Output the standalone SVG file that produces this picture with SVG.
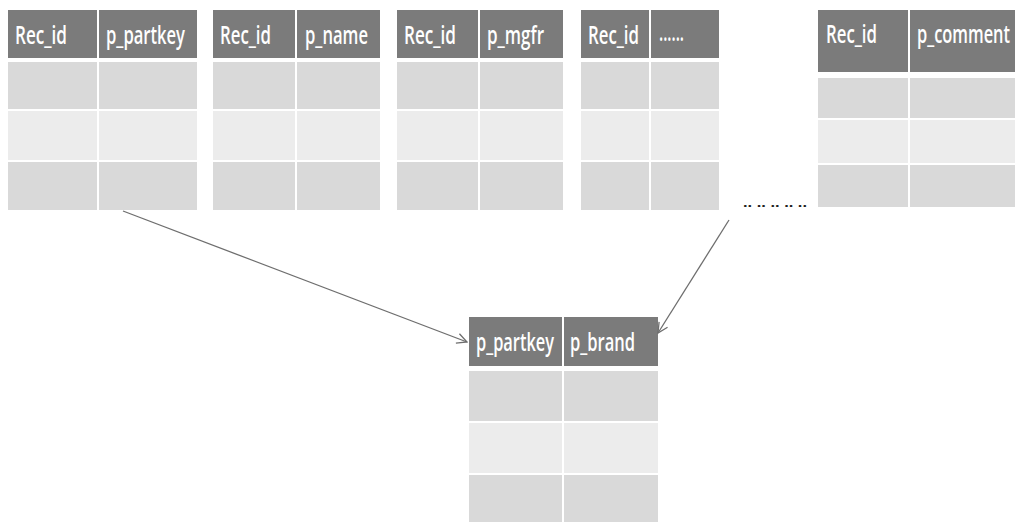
<svg xmlns="http://www.w3.org/2000/svg" width="1015" height="522" viewBox="0 0 1015 522">
<defs>
<style>
.h{fill:#7b7b7b}
.r1{fill:#d9d9d9}
.r2{fill:#ececec}
.t{fill:#ffffff;font-family:"Open Sans","Liberation Sans",sans-serif;font-weight:600;font-size:25px}
.c{stroke:#6e6e6e;stroke-width:1.3;fill:none}
</style>
<marker id="ah" viewBox="0 0 12 12" refX="11" refY="6" markerWidth="12" markerHeight="12" markerUnits="userSpaceOnUse" orient="auto">
<path d="M1,1 L11,6 L1,11" fill="none" stroke="#6e6e6e" stroke-width="1.3"/>
</marker>
</defs>
<rect width="1015" height="522" fill="#ffffff"/>

<g id="table1">
<rect class="h" x="8" y="10" width="89" height="48"/><rect class="h" x="99" y="10" width="98" height="48"/>
<rect class="r1" x="8" y="62" width="89" height="47"/><rect class="r1" x="99" y="62" width="98" height="47"/>
<rect class="r2" x="8" y="111" width="89" height="49"/><rect class="r2" x="99" y="111" width="98" height="49"/>
<rect class="r1" x="8" y="162" width="89" height="48"/><rect class="r1" x="99" y="162" width="98" height="48"/>
<text class="t" x="15" y="44" textLength="52" lengthAdjust="spacingAndGlyphs">Rec_id</text>
<text class="t" x="106" y="44" textLength="79" lengthAdjust="spacingAndGlyphs">p_partkey</text>
</g>

<g id="table2">
<rect class="h" x="213" y="10" width="82" height="48"/><rect class="h" x="297" y="10" width="83" height="48"/>
<rect class="r1" x="213" y="62" width="82" height="47"/><rect class="r1" x="297" y="62" width="83" height="47"/>
<rect class="r2" x="213" y="111" width="82" height="49"/><rect class="r2" x="297" y="111" width="83" height="49"/>
<rect class="r1" x="213" y="162" width="82" height="48"/><rect class="r1" x="297" y="162" width="83" height="48"/>
<text class="t" x="220" y="44" textLength="51" lengthAdjust="spacingAndGlyphs">Rec_id</text>
<text class="t" x="305" y="44" textLength="63" lengthAdjust="spacingAndGlyphs">p_name</text>
</g>

<g id="table3">
<rect class="h" x="397" y="10" width="81" height="48"/><rect class="h" x="480" y="10" width="83" height="48"/>
<rect class="r1" x="397" y="62" width="81" height="47"/><rect class="r1" x="480" y="62" width="83" height="47"/>
<rect class="r2" x="397" y="111" width="81" height="49"/><rect class="r2" x="480" y="111" width="83" height="49"/>
<rect class="r1" x="397" y="162" width="81" height="48"/><rect class="r1" x="480" y="162" width="83" height="48"/>
<text class="t" x="404" y="44" textLength="52" lengthAdjust="spacingAndGlyphs">Rec_id</text>
<text class="t" x="487" y="44" textLength="57" lengthAdjust="spacingAndGlyphs">p_mgfr</text>
</g>

<g id="table4">
<rect class="h" x="581" y="10" width="68" height="48"/><rect class="h" x="651" y="10" width="68" height="48"/>
<rect class="r1" x="581" y="62" width="68" height="47"/><rect class="r1" x="651" y="62" width="68" height="47"/>
<rect class="r2" x="581" y="111" width="68" height="49"/><rect class="r2" x="651" y="111" width="68" height="49"/>
<rect class="r1" x="581" y="162" width="68" height="48"/><rect class="r1" x="651" y="162" width="68" height="48"/>
<text class="t" x="588" y="44" textLength="51" lengthAdjust="spacingAndGlyphs">Rec_id</text>
<text class="t" x="659" y="41" font-size="14" textLength="25" lengthAdjust="spacingAndGlyphs">......</text>
</g>

<g id="ellipsis">
<text x="743" y="207" font-family="Liberation Sans,sans-serif" font-size="12" font-weight="bold" fill="#222222" textLength="64" lengthAdjust="spacingAndGlyphs">.. .. .. .. ..</text>
</g>

<g id="table5">
<rect class="h" x="818" y="10" width="90" height="62"/><rect class="h" x="910" y="10" width="105" height="62"/>
<rect class="r1" x="818" y="78" width="90" height="40"/><rect class="r1" x="910" y="78" width="105" height="40"/>
<rect class="r2" x="818" y="120" width="90" height="43"/><rect class="r2" x="910" y="120" width="105" height="43"/>
<rect class="r1" x="818" y="165" width="90" height="42"/><rect class="r1" x="910" y="165" width="105" height="42"/>
<text class="t" x="826" y="43" textLength="51" lengthAdjust="spacingAndGlyphs">Rec_id</text>
<text class="t" x="917" y="43" textLength="93" lengthAdjust="spacingAndGlyphs">p_comment</text>
</g>

<g id="result">
<rect class="h" x="469" y="317" width="93" height="49"/><rect class="h" x="564" y="317" width="94" height="49"/>
<rect class="r1" x="469" y="371" width="93" height="50"/><rect class="r1" x="564" y="371" width="94" height="50"/>
<rect class="r2" x="469" y="423" width="93" height="50"/><rect class="r2" x="564" y="423" width="94" height="50"/>
<rect class="r1" x="469" y="475" width="93" height="47"/><rect class="r1" x="564" y="475" width="94" height="47"/>
<text class="t" x="476" y="351" textLength="78" lengthAdjust="spacingAndGlyphs">p_partkey</text>
<text class="t" x="570" y="351" textLength="65" lengthAdjust="spacingAndGlyphs">p_brand</text>
</g>

<g id="connectors">
<line class="c" x1="123" y1="211" x2="467" y2="342" marker-end="url(#ah)"/>
<line class="c" x1="729" y1="220" x2="658" y2="333" marker-end="url(#ah)"/>
</g>
</svg>
